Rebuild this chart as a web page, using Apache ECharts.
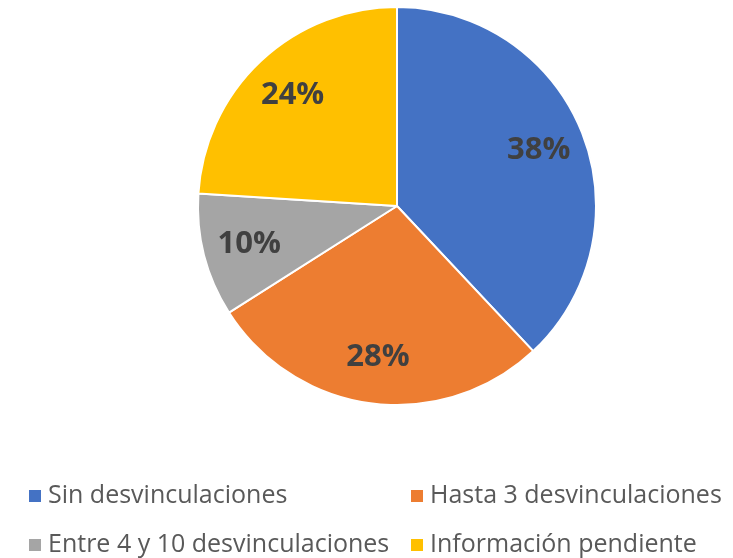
<!DOCTYPE html>
<html>
<head>
<meta charset="utf-8">
<script src="https://cdn.jsdelivr.net/npm/echarts@6/dist/echarts.min.js"></script>
<style>html,body{margin:0;padding:0;background:#fff}#c{width:733px;height:558px}</style>
</head>
<body>
<div id="c"></div>
<script>
const categories = ['Sin desvinculaciones', 'Hasta 3 desvinculaciones', 'Entre 4 y 10 desvinculaciones', 'Información pendiente'];
const values = [38, 28, 10, 24];
const colors = ['#4472C4', '#ED7D31', '#A5A5A5', '#FFC000'];

const data = categories.map((n, i) => ({ name: n, value: values[i], itemStyle: { color: colors[i] } }));
const font = 'Open Sans';
const legendPos = [[27, 482], [409, 482], [27, 531], [409, 531]];

const chart = echarts.init(document.getElementById('c'));
chart.setOption({
  animation: false,
  legend: categories.map((n, i) => ({
    data: [n],
    left: legendPos[i][0],
    top: legendPos[i][1],
    padding: 0,
    icon: 'rect',
    itemWidth: 14,
    itemHeight: 14,
    selectedMode: false,
    textStyle: { fontFamily: font, fontSize: 25, color: '#595959', lineHeight: 28, padding: [0, 0, 0, 1] }
  })),
  series: [
    {
      type: 'pie',
      center: [397, 206],
      radius: [0, 199],
      startAngle: 90,
      clockwise: true,
      silent: true,
      data: data,
      itemStyle: { borderColor: '#fff', borderWidth: 2 },
      label: { show: false },
      labelLine: { show: false }
    },
    {
      type: 'pie',
      center: [397, 206],
      radius: [100, 199],
      startAngle: 90,
      clockwise: true,
      silent: true,
      legendHoverLink: false,
      data: data.map(d => ({ name: d.name, value: d.value, itemStyle: { color: 'rgba(0,0,0,0)' } })),
      label: {
        show: true,
        position: 'inside',
        formatter: '{c}%',
        fontFamily: font,
        fontWeight: 'bold',
        fontSize: 31,
        color: '#404040'
      },
      labelLine: { show: false }
    }
  ]
});
</script>
</body>
</html>
